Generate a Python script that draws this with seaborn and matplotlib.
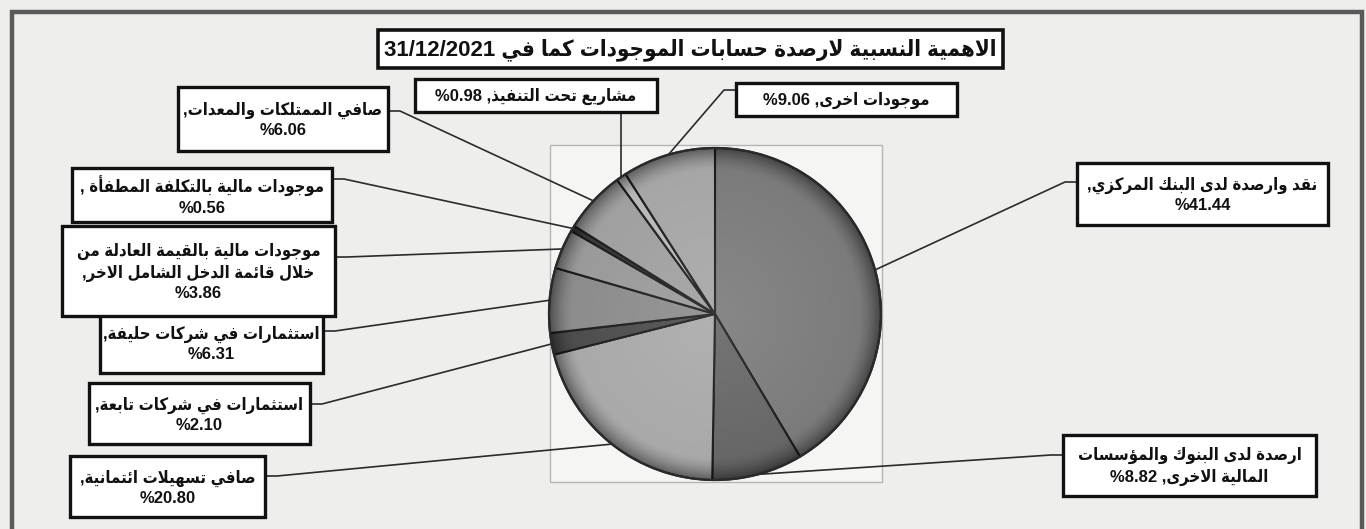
import re
import numpy as np
import matplotlib
matplotlib.use("Agg")
import matplotlib.pyplot as plt
from matplotlib.patches import Rectangle, Circle
import seaborn as sns

# ---------------------------------------------------------------- data
title = "الاهمية النسبية لارصدة حسابات الموجودات كما في 31/12/2021"

categories = [
    "نقد وارصدة لدى البنك المركزي",
    "ارصدة لدى البنوك والمؤسسات\nالمالية الاخرى",
    "صافي تسهيلات ائتمانية",
    "استثمارات في شركات تابعة",
    "استثمارات في شركات حليفة",
    "موجودات مالية بالقيمة العادلة من\nخلال قائمة الدخل الشامل الاخر",
    "موجودات مالية بالتكلفة المطفأة ",
    "صافي الممتلكات والمعدات",
    "مشاريع تحت التنفيذ",
    "موجودات اخرى",
]
shares = [41.44, 8.82, 20.80, 2.10, 6.31, 3.86, 0.56, 6.06, 0.98, 9.06]

slice_colors = ["#7b7b7b", "#676767", "#a9a9a9", "#4d4d4d", "#8c8c8c",
                "#9a9a9a", "#3a3a3a", "#a0a0a0", "#b8b8b8", "#a6a6a6"]

# label boxes in canvas pixels (x0, y0, x1, y1), measured from the top-left
label_boxes = [
    (1077, 163, 1328, 225),
    (1063, 435, 1316, 496),
    (70, 456, 265, 517),
    (89, 383, 310, 444),
    (100, 313, 323, 373),
    (62, 226, 335, 316),
    (72, 168, 332, 222),
    (178, 87, 388, 151),
    (415, 79, 657, 112),
    (736, 83, 957, 116),
]
# percentage on its own line?
pct_new_line = [True, False, True, True, True, True, True, True, False, False]
# where the leader meets the box: ("left"/"right", y) or ("bottom", None)
leader_attach = [("left", 182), ("left", 455), ("right", 476), ("right", 404),
                 ("right", 331), ("right", 257), ("right", 179), ("right", 111),
                 ("bottom", None), ("left", 90)]

# --------------------------------------------------- Arabic text shaping
_DUAL = {'ئ': 0xFE89, 'ب': 0xFE8F, 'ت': 0xFE95, 'ث': 0xFE99, 'ج': 0xFE9D,
         'ح': 0xFEA1, 'خ': 0xFEA5, 'س': 0xFEB1, 'ش': 0xFEB5, 'ص': 0xFEB9,
         'ض': 0xFEBD, 'ط': 0xFEC1, 'ظ': 0xFEC5, 'ع': 0xFEC9, 'غ': 0xFECD,
         'ف': 0xFED1, 'ق': 0xFED5, 'ك': 0xFED9, 'ل': 0xFEDD, 'م': 0xFEE1,
         'ن': 0xFEE5, 'ه': 0xFEE9, 'ي': 0xFEF1}
_RIGHT = {'آ': 0xFE81, 'أ': 0xFE83, 'ؤ': 0xFE85, 'إ': 0xFE87, 'ا': 0xFE8D,
          'ة': 0xFE93, 'د': 0xFEA9, 'ذ': 0xFEAB, 'ر': 0xFEAD, 'ز': 0xFEAF,
          'و': 0xFEED, 'ى': 0xFEEF}
_LAM_ALEF = {'آ': 0xFEF5, 'أ': 0xFEF7, 'إ': 0xFEF9, 'ا': 0xFEFB}


def _shape(s):
    units = []
    i = 0
    while i < len(s):
        if s[i] == 'ل' and i + 1 < len(s) and s[i + 1] in _LAM_ALEF:
            units.append(('LA', s[i + 1]))
            i += 2
        else:
            units.append(s[i])
            i += 1

    def joins_next(u):
        return isinstance(u, str) and u in _DUAL

    def joining(u):
        return isinstance(u, tuple) or u in _DUAL or u in _RIGHT

    out = []
    for k, u in enumerate(units):
        prev = units[k - 1] if k > 0 else None
        nxt = units[k + 1] if k + 1 < len(units) else None
        jp = prev is not None and joins_next(prev) and joining(u)
        jn = nxt is not None and joins_next(u) and joining(nxt)
        if isinstance(u, tuple):
            out.append(chr(_LAM_ALEF[u[1]] + (1 if jp else 0)))
        elif u in _DUAL:
            off = 3 if (jp and jn) else 1 if jp else 2 if jn else 0
            out.append(chr(_DUAL[u] + off))
        elif u in _RIGHT:
            out.append(chr(_RIGHT[u] + (1 if jp else 0)))
        else:
            out.append(u)
    return ''.join(out)


def rtl(text):
    lines = []
    for line in text.split('\n'):
        shaped = _shape(line)
        parts = re.split(r'([%0-9][0-9./%]*)', shaped)
        vis = []
        for p in reversed(parts):
            vis.append(p if re.fullmatch(r'[%0-9][0-9./%]*', p) else p[::-1])
        lines.append(''.join(vis))
    return '\n'.join(lines)


# ---------------------------------------------------------------- figure
sns.set_theme(style="white")
plt.rcParams['font.family'] = ['Liberation Sans', 'DejaVu Sans']
TXT = dict(fontweight="bold", fontstretch="condensed", color="#111111")

W, H = 1366, 529
fig = plt.figure(figsize=(W / 100, H / 100), dpi=100, facecolor="#eeeeec")
ax = fig.add_axes([0, 0, 1, 1])
ax.set_facecolor("#eeeeec")


def px(x, y):
    return x, H - y


# outer frame
fx, fy = px(12, 12)
ax.add_patch(Rectangle((fx, -20), 1362 - 12, fy + 20, fill=False,
                       edgecolor="#5a5a5a", linewidth=3.2, zorder=1))

# plot area
cx, cy = px(715, 314)
R = 166
ax.add_patch(Rectangle(px(550, 482), 332, 337, facecolor="#f5f5f4",
                       edgecolor="#b5b5b5", linewidth=1.0, zorder=1))

wedges, _ = ax.pie(shares, colors=slice_colors, startangle=90,
                   counterclock=False, center=(cx, cy), radius=R,
                   wedgeprops=dict(edgecolor="#1e1e1e", linewidth=1.5))
for w in wedges:
    w.set_zorder(2)

# bevel shading along the rim
n = 500
g = np.linspace(-1, 1, n)
gx, gy = np.meshgrid(g, g)
rr = np.hypot(gx, gy)
shade = np.zeros((n, n, 4))
alpha = np.clip((rr - 0.86) / 0.14, 0, 1) ** 1.6 * 0.45
light = np.clip(1 - rr / 0.9, 0, 1) * 0.10
shade[..., :3] = np.where((alpha > light)[..., None], 0.0, 1.0)
shade[..., 3] = np.maximum(alpha, light)
im = ax.imshow(shade, extent=(cx - R, cx + R, cy - R, cy + R), zorder=3,
               interpolation="bilinear")
im.set_clip_path(Circle((cx, cy), R, transform=ax.transData))
ax.add_patch(Circle((cx, cy), R, fill=False, edgecolor="#2a2a2a",
                    linewidth=1.6, zorder=4))

# title box
tx0, ty0, tx1, ty1 = 378, 30, 1003, 68
ax.add_patch(Rectangle(px(tx0, ty1), tx1 - tx0, ty1 - ty0, facecolor="white",
                       edgecolor="#111111", linewidth=2.6, zorder=5))
ax.text(*px((tx0 + tx1) / 2, (ty0 + ty1) / 2 + 1), rtl(title), ha="center",
        va="center", fontsize=16, zorder=6, **TXT)

# slice labels with leader lines
for w, name, v, box, newl, att in zip(wedges, categories, shares, label_boxes,
                                      pct_new_line, leader_attach):
    mid = np.deg2rad((w.theta1 + w.theta2) / 2)
    ax_, ay_ = cx + R * np.cos(mid), cy + R * np.sin(mid)
    x0, y0, x1, y1 = box
    side, yy = att
    if side == "bottom":
        ex, ey = px(0, y1)
        ax.plot([ax_, ax_], [ay_, ey], color="#2b2b2b", lw=1.2, zorder=4)
    else:
        bx = x0 if side == "left" else x1
        elbow = bx - 12 if side == "left" else bx + 12
        pts = [(ax_, ay_), px(elbow, yy), px(bx, yy)]
        ax.plot([p[0] for p in pts], [p[1] for p in pts], color="#2b2b2b",
                lw=1.2, zorder=4)
    ax.add_patch(Rectangle(px(x0, y1), x1 - x0, y1 - y0, facecolor="white",
                           edgecolor="#111111", linewidth=2.4, zorder=5))
    label = name + "," + ("\n" if newl else " ") + f"%{v:.2f}"
    ax.text(*px((x0 + x1) / 2, (y0 + y1) / 2 + 1), rtl(label), ha="center",
            va="center", multialignment="center", fontsize=12,
            linespacing=1.35, zorder=6, **TXT)

ax.set_xlim(0, W)
ax.set_ylim(0, H)
ax.set_aspect("auto")
ax.axis("off")

fig.savefig("out.png", dpi=100, facecolor=fig.get_facecolor())
